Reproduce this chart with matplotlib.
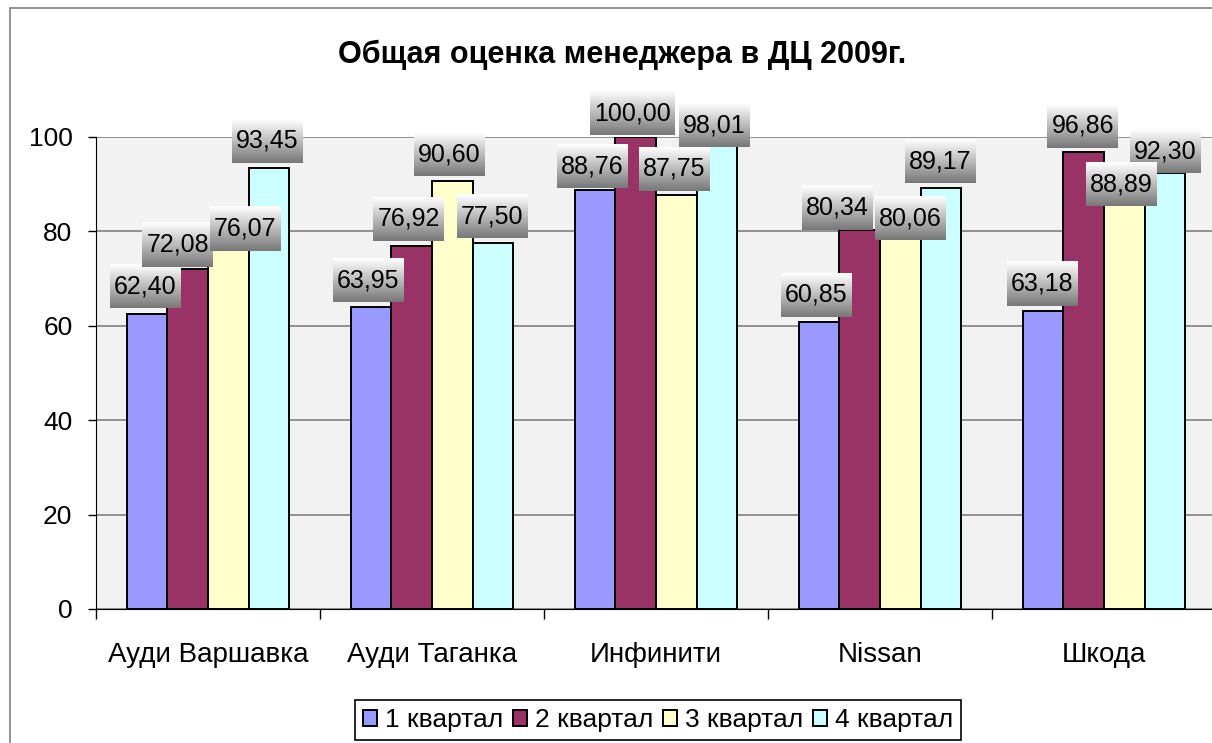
import numpy as np
import matplotlib.pyplot as plt
from matplotlib.patches import Rectangle

plt.rcParams['font.family'] = ['Liberation Sans', 'DejaVu Sans']

categories = ['Ауди Варшавка', 'Ауди Таганка', 'Инфинити', 'Nissan', 'Шкода']
series_names = ['1 квартал', '2 квартал', '3 квартал', '4 квартал']
q1 = [62.40, 63.95, 88.76, 60.85, 63.18]
q2 = [72.08, 76.92, 100.00, 80.34, 96.86]
q3 = [76.07, 90.60, 87.75, 80.06, 88.89]
q4 = [93.45, 77.50, 98.01, 89.17, 92.30]
colors = ['#9999FF', '#993366', '#FFFFCC', '#CCFFFF']

# label nudges in pixels (dx, height of box centre above bar top), series x category
label_dx = [[-2, -3, -3, -3, -1],
            [-10, -3, -3, -22, -1],
            [17, -3, -2, 10, -3],
            [-2, -1, -3, -1, 0]]
label_dy = [[28, 27, 24, 27, 27],
            [24, 27, 24, 22, 26],
            [21, 27, 26, 13, 5],
            [27, 27, 21, 27, 22]]
# drawing order of the label layers (3rd quarter sits on top)
label_layer = [0, 1, 3, 2]

W, H = 1212, 743
fig = plt.figure(figsize=(W / 100, H / 100), dpi=100)
fig.patch.set_facecolor('white')

# outer chart border (cut off at right and bottom)
fig.add_artist(Rectangle((10 / W, -0.05), 1.2, 1 - 8 / H + 0.05, transform=fig.transFigure,
                         fill=False, edgecolor='#808080', lw=1.2, clip_on=False))

ax = fig.add_axes([96 / W, 1 - 609 / H, 1120 / W, (609 - 137) / H])
ax.set_facecolor('#F2F2F2')

x = np.arange(len(categories))
width = 1 / 5.5
all_series = [q1, q2, q3, q4]
bar_sets = []
for i, (vals, name) in enumerate(zip(all_series, series_names)):
    pos = x + (i - 1.5) * width
    ax.bar(pos, vals, width, color=colors[i], edgecolor='black', lw=1.4,
           label=name, zorder=3)
    bar_sets.append((pos, vals))

ax.set_xlim(-0.5, len(categories) - 0.5)
ax.set_ylim(0, 100)
ax.set_yticks(range(0, 101, 20))
ax.yaxis.grid(True, color='#808080', lw=1.2, zorder=1)
ax.set_axisbelow(True)
for s in ['top', 'right']:
    ax.spines[s].set_visible(False)
ax.spines['left'].set_color('black')
ax.spines['bottom'].set_color('black')
ax.tick_params(axis='y', length=6, width=1, labelsize=19, pad=11)
ax.set_xticks(x)
ax.set_xticklabels(categories, fontsize=20)
ax.tick_params(axis='x', which='major', length=0, pad=24)
ax.set_xticks(np.arange(-0.5, len(categories)), minor=True)
ax.tick_params(axis='x', which='minor', length=7, width=1)

fig.text(622 / W, 1 - 55 / H, 'Общая оценка менеджера в ДЦ 2009г.', ha='center', va='center',
         fontsize=22, fontweight='bold')

# data labels with gray gradient boxes
grad = np.linspace(1.0, 0.47, 64).reshape(-1, 1)
texts = []
for i, (pos, vals) in enumerate(bar_sets):
    for j, (px, v) in enumerate(zip(pos, vals)):
        z = 10 + label_layer[i] * 20 + j * 2
        t = ax.annotate(f'{v:.2f}'.replace('.', ','), (px, v),
                        xytext=(label_dx[i][j] * 0.72, label_dy[i][j] * 0.72),
                        textcoords='offset points', ha='center', va='center',
                        fontsize=18, zorder=z + 1, annotation_clip=False)
        texts.append((t, z))

fig.canvas.draw()
inv = ax.transData.inverted()
for t, zz in texts:
    bb = t.get_window_extent()
    cx = (bb.x0 + bb.x1) / 2
    cy = (bb.y0 + bb.y1) / 2
    half_w = (bb.x1 - bb.x0) / 2 + 4
    (x0, y0) = inv.transform((cx - half_w, cy - 22))
    (x1, y1) = inv.transform((cx + half_w, cy + 22))
    im = ax.imshow(grad, cmap='gray', vmin=0, vmax=1, extent=(x0, x1, y0, y1),
                   aspect='auto', zorder=zz, interpolation='bilinear')
    im.set_clip_on(False)

ax.set_xlim(-0.5, len(categories) - 0.5)
ax.set_ylim(0, 100)

leg = fig.legend(loc='center', bbox_to_anchor=(658 / W, 1 - 720 / H), ncol=4, fontsize=19,
                 frameon=True, fancybox=False, edgecolor='black', framealpha=1,
                 handlelength=0.55, handleheight=0.55, handletextpad=0.3, columnspacing=0.35,
                 borderpad=0.3, borderaxespad=0)
leg.get_frame().set_linewidth(1.2)

fig.savefig('out.png', dpi=100)
